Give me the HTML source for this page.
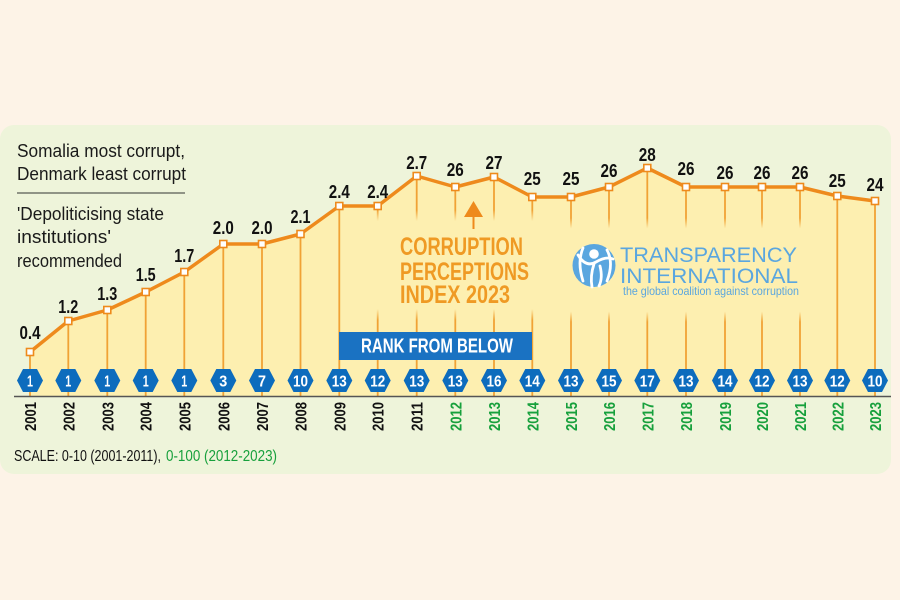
<!DOCTYPE html>
<html><head><meta charset="utf-8"><style>
html,body{margin:0;padding:0;background:#fdf3e7;}
svg{display:block;}
text{font-family:"Liberation Sans Narrow","Liberation Sans",sans-serif;}
.logo text{font-family:"Liberation Sans",sans-serif;}
</style></head><body>
<svg width="900" height="600" viewBox="0 0 900 600" xmlns="http://www.w3.org/2000/svg">
<defs>
<polygon id="hx" points="-13,0 -7,-11.5 7,-11.5 13,0 7,11.5 -7,11.5" fill="#0d6cbd"/>
<linearGradient id="fade" x1="0" y1="0" x2="0" y2="1">
<stop offset="0" stop-color="#fdefb0" stop-opacity="0"/>
<stop offset="0.1" stop-color="#fdefb0" stop-opacity="1"/>
<stop offset="0.9" stop-color="#fdefb0" stop-opacity="1"/>
<stop offset="1" stop-color="#fdefb0" stop-opacity="0"/>
</linearGradient>
</defs>
<rect x="0" y="0" width="900" height="600" fill="#fdf3e7"/>
<rect x="0" y="125" width="891" height="349" rx="14" fill="#eef4da"/>
<polygon fill="#fdefb0" points="30,352 68.3,321 107.3,310 145.7,292 184.3,272 223.3,244 262,244 300.5,234 339.3,206 377.7,206 416.7,176 455.3,187 494,177 532.3,197 571,197 609,187 647.3,168 686,187 725,187 762,187 800,187 837.3,196 875,201 875,396 30,396"/>
<g stroke="#f0a235" stroke-width="1.8">
<line x1="30" y1="352" x2="30" y2="396"/>
<line x1="68.3" y1="321" x2="68.3" y2="396"/>
<line x1="107.3" y1="310" x2="107.3" y2="396"/>
<line x1="145.7" y1="292" x2="145.7" y2="396"/>
<line x1="184.3" y1="272" x2="184.3" y2="396"/>
<line x1="223.3" y1="244" x2="223.3" y2="396"/>
<line x1="262" y1="244" x2="262" y2="396"/>
<line x1="300.5" y1="234" x2="300.5" y2="396"/>
<line x1="339.3" y1="206" x2="339.3" y2="396"/>
<line x1="377.7" y1="206" x2="377.7" y2="396"/>
<line x1="416.7" y1="176" x2="416.7" y2="396"/>
<line x1="455.3" y1="187" x2="455.3" y2="396"/>
<line x1="494" y1="177" x2="494" y2="396"/>
<line x1="532.3" y1="197" x2="532.3" y2="396"/>
<line x1="571" y1="197" x2="571" y2="396"/>
<line x1="609" y1="187" x2="609" y2="396"/>
<line x1="647.3" y1="168" x2="647.3" y2="396"/>
<line x1="686" y1="187" x2="686" y2="396"/>
<line x1="725" y1="187" x2="725" y2="396"/>
<line x1="762" y1="187" x2="762" y2="396"/>
<line x1="800" y1="187" x2="800" y2="396"/>
<line x1="837.3" y1="196" x2="837.3" y2="396"/>
<line x1="875" y1="201" x2="875" y2="396"/>
</g>
<rect x="362" y="210" width="188" height="110" fill="url(#fade)"/>
<rect x="553" y="218" width="262" height="104" fill="url(#fade)"/>
<polyline fill="none" stroke="#ee8a1c" stroke-width="3.5" stroke-linejoin="round" points="30,352 68.3,321 107.3,310 145.7,292 184.3,272 223.3,244 262,244 300.5,234 339.3,206 377.7,206 416.7,176 455.3,187 494,177 532.3,197 571,197 609,187 647.3,168 686,187 725,187 762,187 800,187 837.3,196 875,201"/>
<g fill="#fff" stroke="#ee8a1c" stroke-width="1.6">
<rect x="26.5" y="348.5" width="7" height="7"/>
<rect x="64.8" y="317.5" width="7" height="7"/>
<rect x="103.8" y="306.5" width="7" height="7"/>
<rect x="142.2" y="288.5" width="7" height="7"/>
<rect x="180.8" y="268.5" width="7" height="7"/>
<rect x="219.8" y="240.5" width="7" height="7"/>
<rect x="258.5" y="240.5" width="7" height="7"/>
<rect x="297" y="230.5" width="7" height="7"/>
<rect x="335.8" y="202.5" width="7" height="7"/>
<rect x="374.2" y="202.5" width="7" height="7"/>
<rect x="413.2" y="172.5" width="7" height="7"/>
<rect x="451.8" y="183.5" width="7" height="7"/>
<rect x="490.5" y="173.5" width="7" height="7"/>
<rect x="528.8" y="193.5" width="7" height="7"/>
<rect x="567.5" y="193.5" width="7" height="7"/>
<rect x="605.5" y="183.5" width="7" height="7"/>
<rect x="643.8" y="164.5" width="7" height="7"/>
<rect x="682.5" y="183.5" width="7" height="7"/>
<rect x="721.5" y="183.5" width="7" height="7"/>
<rect x="758.5" y="183.5" width="7" height="7"/>
<rect x="796.5" y="183.5" width="7" height="7"/>
<rect x="833.8" y="192.5" width="7" height="7"/>
<rect x="871.5" y="197.5" width="7" height="7"/>
</g>
<g font-size="18" font-weight="bold" fill="#111" text-anchor="middle">
<text x="30" y="339" textLength="21" lengthAdjust="spacingAndGlyphs">0.4</text>
<text x="68.3" y="313" textLength="20" lengthAdjust="spacingAndGlyphs">1.2</text>
<text x="107.3" y="300" textLength="20" lengthAdjust="spacingAndGlyphs">1.3</text>
<text x="145.7" y="281" textLength="20" lengthAdjust="spacingAndGlyphs">1.5</text>
<text x="184.3" y="262" textLength="20" lengthAdjust="spacingAndGlyphs">1.7</text>
<text x="223.3" y="234" textLength="21" lengthAdjust="spacingAndGlyphs">2.0</text>
<text x="262" y="234" textLength="21" lengthAdjust="spacingAndGlyphs">2.0</text>
<text x="300.5" y="223" textLength="20" lengthAdjust="spacingAndGlyphs">2.1</text>
<text x="339.3" y="198" textLength="21" lengthAdjust="spacingAndGlyphs">2.4</text>
<text x="377.7" y="198" textLength="21" lengthAdjust="spacingAndGlyphs">2.4</text>
<text x="416.7" y="169" textLength="21" lengthAdjust="spacingAndGlyphs">2.7</text>
<text x="455.3" y="176" textLength="17" lengthAdjust="spacingAndGlyphs">26</text>
<text x="494" y="169" textLength="17" lengthAdjust="spacingAndGlyphs">27</text>
<text x="532.3" y="185" textLength="17" lengthAdjust="spacingAndGlyphs">25</text>
<text x="571" y="185" textLength="17" lengthAdjust="spacingAndGlyphs">25</text>
<text x="609" y="177" textLength="17" lengthAdjust="spacingAndGlyphs">26</text>
<text x="647.3" y="161" textLength="17" lengthAdjust="spacingAndGlyphs">28</text>
<text x="686" y="175" textLength="17" lengthAdjust="spacingAndGlyphs">26</text>
<text x="725" y="179" textLength="17" lengthAdjust="spacingAndGlyphs">26</text>
<text x="762" y="179" textLength="17" lengthAdjust="spacingAndGlyphs">26</text>
<text x="800" y="179" textLength="17" lengthAdjust="spacingAndGlyphs">26</text>
<text x="837.3" y="187" textLength="17" lengthAdjust="spacingAndGlyphs">25</text>
<text x="875" y="191" textLength="17" lengthAdjust="spacingAndGlyphs">24</text>
</g>
<use href="#hx" x="30" y="380.5"/>
<use href="#hx" x="68.3" y="380.5"/>
<use href="#hx" x="107.3" y="380.5"/>
<use href="#hx" x="145.7" y="380.5"/>
<use href="#hx" x="184.3" y="380.5"/>
<use href="#hx" x="223.3" y="380.5"/>
<use href="#hx" x="262" y="380.5"/>
<use href="#hx" x="300.5" y="380.5"/>
<use href="#hx" x="339.3" y="380.5"/>
<use href="#hx" x="377.7" y="380.5"/>
<use href="#hx" x="416.7" y="380.5"/>
<use href="#hx" x="455.3" y="380.5"/>
<use href="#hx" x="494" y="380.5"/>
<use href="#hx" x="532.3" y="380.5"/>
<use href="#hx" x="571" y="380.5"/>
<use href="#hx" x="609" y="380.5"/>
<use href="#hx" x="647.3" y="380.5"/>
<use href="#hx" x="686" y="380.5"/>
<use href="#hx" x="725" y="380.5"/>
<use href="#hx" x="762" y="380.5"/>
<use href="#hx" x="800" y="380.5"/>
<use href="#hx" x="837.3" y="380.5"/>
<use href="#hx" x="875" y="380.5"/>
<g font-size="16" font-weight="bold" fill="#fff" text-anchor="middle">
<text x="30" y="386.5" textLength="6" lengthAdjust="spacingAndGlyphs">1</text>
<text x="68.3" y="386.5" textLength="6" lengthAdjust="spacingAndGlyphs">1</text>
<text x="107.3" y="386.5" textLength="6" lengthAdjust="spacingAndGlyphs">1</text>
<text x="145.7" y="386.5" textLength="6" lengthAdjust="spacingAndGlyphs">1</text>
<text x="184.3" y="386.5" textLength="6" lengthAdjust="spacingAndGlyphs">1</text>
<text x="223.3" y="386.5" textLength="8" lengthAdjust="spacingAndGlyphs">3</text>
<text x="262" y="386.5" textLength="8" lengthAdjust="spacingAndGlyphs">7</text>
<text x="300.5" y="386.5" textLength="15" lengthAdjust="spacingAndGlyphs">10</text>
<text x="339.3" y="386.5" textLength="15" lengthAdjust="spacingAndGlyphs">13</text>
<text x="377.7" y="386.5" textLength="15" lengthAdjust="spacingAndGlyphs">12</text>
<text x="416.7" y="386.5" textLength="15" lengthAdjust="spacingAndGlyphs">13</text>
<text x="455.3" y="386.5" textLength="15" lengthAdjust="spacingAndGlyphs">13</text>
<text x="494" y="386.5" textLength="15" lengthAdjust="spacingAndGlyphs">16</text>
<text x="532.3" y="386.5" textLength="15" lengthAdjust="spacingAndGlyphs">14</text>
<text x="571" y="386.5" textLength="15" lengthAdjust="spacingAndGlyphs">13</text>
<text x="609" y="386.5" textLength="15" lengthAdjust="spacingAndGlyphs">15</text>
<text x="647.3" y="386.5" textLength="15" lengthAdjust="spacingAndGlyphs">17</text>
<text x="686" y="386.5" textLength="15" lengthAdjust="spacingAndGlyphs">13</text>
<text x="725" y="386.5" textLength="15" lengthAdjust="spacingAndGlyphs">14</text>
<text x="762" y="386.5" textLength="15" lengthAdjust="spacingAndGlyphs">12</text>
<text x="800" y="386.5" textLength="15" lengthAdjust="spacingAndGlyphs">13</text>
<text x="837.3" y="386.5" textLength="15" lengthAdjust="spacingAndGlyphs">12</text>
<text x="875" y="386.5" textLength="15" lengthAdjust="spacingAndGlyphs">10</text>
</g>
<line x1="14" y1="396.5" x2="891" y2="396.5" stroke="#555" stroke-width="1.6"/>
<g font-size="16" font-weight="bold" fill="#111">
<text transform="translate(36,431) rotate(-90)" textLength="29" lengthAdjust="spacingAndGlyphs">2001</text>
<text transform="translate(74.3,431) rotate(-90)" textLength="29" lengthAdjust="spacingAndGlyphs">2002</text>
<text transform="translate(113.3,431) rotate(-90)" textLength="29" lengthAdjust="spacingAndGlyphs">2003</text>
<text transform="translate(151.7,431) rotate(-90)" textLength="29" lengthAdjust="spacingAndGlyphs">2004</text>
<text transform="translate(190.3,431) rotate(-90)" textLength="29" lengthAdjust="spacingAndGlyphs">2005</text>
<text transform="translate(229.3,431) rotate(-90)" textLength="29" lengthAdjust="spacingAndGlyphs">2006</text>
<text transform="translate(268,431) rotate(-90)" textLength="29" lengthAdjust="spacingAndGlyphs">2007</text>
<text transform="translate(306.5,431) rotate(-90)" textLength="29" lengthAdjust="spacingAndGlyphs">2008</text>
<text transform="translate(345.3,431) rotate(-90)" textLength="29" lengthAdjust="spacingAndGlyphs">2009</text>
<text transform="translate(383.7,431) rotate(-90)" textLength="29" lengthAdjust="spacingAndGlyphs">2010</text>
<text transform="translate(422.7,431) rotate(-90)" textLength="29" lengthAdjust="spacingAndGlyphs">2011</text>
</g>
<g font-size="16" font-weight="bold" fill="#17a03c">
<text transform="translate(461.3,431) rotate(-90)" textLength="29" lengthAdjust="spacingAndGlyphs">2012</text>
<text transform="translate(500,431) rotate(-90)" textLength="29" lengthAdjust="spacingAndGlyphs">2013</text>
<text transform="translate(538.3,431) rotate(-90)" textLength="29" lengthAdjust="spacingAndGlyphs">2014</text>
<text transform="translate(577,431) rotate(-90)" textLength="29" lengthAdjust="spacingAndGlyphs">2015</text>
<text transform="translate(615,431) rotate(-90)" textLength="29" lengthAdjust="spacingAndGlyphs">2016</text>
<text transform="translate(653.3,431) rotate(-90)" textLength="29" lengthAdjust="spacingAndGlyphs">2017</text>
<text transform="translate(692,431) rotate(-90)" textLength="29" lengthAdjust="spacingAndGlyphs">2018</text>
<text transform="translate(731,431) rotate(-90)" textLength="29" lengthAdjust="spacingAndGlyphs">2019</text>
<text transform="translate(768,431) rotate(-90)" textLength="29" lengthAdjust="spacingAndGlyphs">2020</text>
<text transform="translate(806,431) rotate(-90)" textLength="29" lengthAdjust="spacingAndGlyphs">2021</text>
<text transform="translate(843.3,431) rotate(-90)" textLength="29" lengthAdjust="spacingAndGlyphs">2022</text>
<text transform="translate(881,431) rotate(-90)" textLength="29" lengthAdjust="spacingAndGlyphs">2023</text>
</g>
<text x="14" y="461" font-size="16" fill="#111" textLength="147" lengthAdjust="spacingAndGlyphs">SCALE: 0-10 (2001-2011),</text>
<text x="166" y="461" font-size="16" fill="#17a03c" textLength="111" lengthAdjust="spacingAndGlyphs">0-100 (2012-2023)</text>
<g font-size="18" fill="#1a1a1a">
<text x="17" y="157" textLength="168" lengthAdjust="spacingAndGlyphs">Somalia most corrupt,</text>
<text x="17" y="180" textLength="169" lengthAdjust="spacingAndGlyphs">Denmark least corrupt</text>
<text x="17" y="220" textLength="147" lengthAdjust="spacingAndGlyphs">'Depoliticising state</text>
<text x="17" y="243" textLength="94" lengthAdjust="spacingAndGlyphs">institutions'</text>
<text x="17" y="267" textLength="105" lengthAdjust="spacingAndGlyphs">recommended</text>
</g>
<line x1="17" y1="193" x2="185" y2="193" stroke="#333" stroke-width="1"/>
<rect x="339" y="332" width="193" height="28" fill="#1a72c2"/>
<text x="361" y="352.5" font-size="20" font-weight="bold" fill="#fff" textLength="152" lengthAdjust="spacingAndGlyphs">RANK FROM BELOW</text>
<g font-size="25" font-weight="bold" fill="#ef9a24">
<text x="400" y="255" textLength="123" lengthAdjust="spacingAndGlyphs">CORRUPTION</text>
<text x="400" y="280" textLength="129" lengthAdjust="spacingAndGlyphs">PERCEPTIONS</text>
<text x="400" y="303" textLength="110" lengthAdjust="spacingAndGlyphs">INDEX 2023</text>
</g>
<polygon points="473.5,201 464,217 483,217" fill="#ee8a1c"/>
<rect x="472.5" y="216" width="2" height="13" fill="#ee8a1c"/>
<circle cx="594" cy="265.5" r="21.5" fill="#5aa6df"/>
<g stroke="#fff" stroke-width="2.8" fill="none" stroke-linecap="round">
<path d="M578,255 Q586,268 596,262 Q606,256 613,259"/>
<path d="M594,264 Q590,276 592,287"/>
<path d="M600,266 Q603,278 599,286"/>
<path d="M607,250 Q614,263 607,281"/>
<path d="M583,248 Q577,262 583,281"/>
</g>
<circle cx="594" cy="254" r="4.8" fill="#fff"/>
<g class="logo" fill="#5aa6df">
<text x="620" y="262" font-size="21" textLength="177" lengthAdjust="spacingAndGlyphs">TRANSPARENCY</text>
<text x="620" y="283" font-size="21" textLength="178" lengthAdjust="spacingAndGlyphs">INTERNATIONAL</text>
<text x="623" y="295" font-size="12" textLength="176" lengthAdjust="spacingAndGlyphs">the global coalition against corruption</text>
</g>
</svg>
</body></html>
